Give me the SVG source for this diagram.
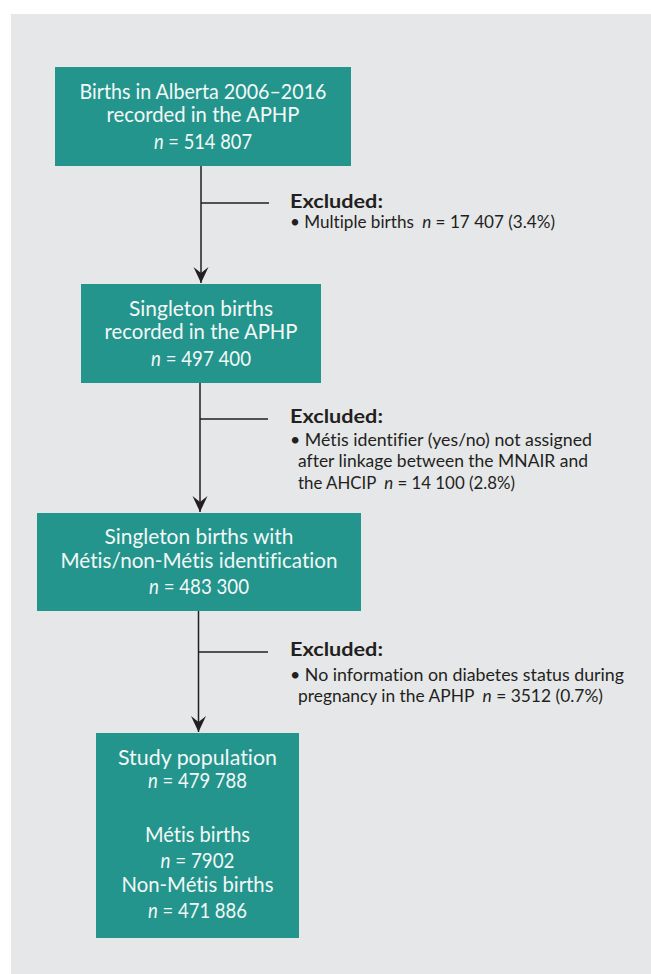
<svg xmlns="http://www.w3.org/2000/svg" width="651" height="974" viewBox="0 0 651 974">
<defs>
<style>
.bg{fill:#ffffff}
.panel{fill:#e6e7e9}
.box{fill:#23958d}
text{font-variant-ligatures:none}
.bt{font-family:Lato,"Source Sans Pro","Liberation Sans",sans-serif;font-size:21px;fill:#f3f8f6;text-anchor:middle;font-weight:400}
.eh{font-family:Lato,"Source Sans Pro","Liberation Sans",sans-serif;font-size:19.5px;font-weight:700;fill:#231f20}
.et{font-family:Lato,"Source Sans Pro","Liberation Sans",sans-serif;font-size:17.5px;fill:#231f20}
.i{font-style:italic}
.ln{stroke:#231f20;stroke-width:1.5;fill:none}
</style>
<marker id="ah" viewBox="0 0 16 16" refX="16" refY="8" markerWidth="16" markerHeight="16" markerUnits="userSpaceOnUse" orient="auto">
<path d="M16,8 L0,0.5 L6,8 L0,15.5 Z" fill="#231f20"/>
</marker>
</defs>
<rect class="bg" x="0" y="0" width="651" height="974"/>
<rect class="panel" x="11" y="14" width="640" height="960"/>

<g id="connectors">
<line class="ln" x1="201" y1="166" x2="201" y2="283" marker-end="url(#ah)"/>
<line class="ln" x1="201" y1="203" x2="269" y2="203"/>
<line class="ln" x1="200" y1="383" x2="200" y2="512" marker-end="url(#ah)"/>
<line class="ln" x1="200" y1="419" x2="268" y2="419"/>
<line class="ln" x1="198.5" y1="611" x2="198.5" y2="732" marker-end="url(#ah)"/>
<line class="ln" x1="198.5" y1="652" x2="268" y2="652"/>
</g>

<g id="box1">
<rect class="box" x="55" y="67" width="296" height="99"/>
<text class="bt" x="203" y="99" textLength="247" lengthAdjust="spacingAndGlyphs">Births in Alberta 2006–2016</text>
<text class="bt" x="203" y="122" textLength="193" lengthAdjust="spacingAndGlyphs">recorded in the APHP</text>
<text class="bt" x="203" y="149" textLength="98" lengthAdjust="spacingAndGlyphs"><tspan class="i">n</tspan> = 514 807</text>
</g>

<g id="excl1">
<text class="eh" x="290" y="208" textLength="93" lengthAdjust="spacingAndGlyphs">Excluded:</text>
<text class="et" x="290" y="228" textLength="265" lengthAdjust="spacingAndGlyphs">• Multiple births <tspan class="i" dx="4">n</tspan> = 17 407 (3.4%)</text>
</g>

<g id="box2">
<rect class="box" x="81" y="284" width="240" height="99"/>
<text class="bt" x="201" y="316" textLength="144" lengthAdjust="spacingAndGlyphs">Singleton births</text>
<text class="bt" x="201" y="339" textLength="193" lengthAdjust="spacingAndGlyphs">recorded in the APHP</text>
<text class="bt" x="201" y="366" textLength="100" lengthAdjust="spacingAndGlyphs"><tspan class="i">n</tspan> = 497 400</text>
</g>

<g id="excl2">
<text class="eh" x="290" y="423" textLength="93" lengthAdjust="spacingAndGlyphs">Excluded:</text>
<text class="et" x="290" y="446" textLength="302" lengthAdjust="spacingAndGlyphs">• Métis identifier (yes/no) not assigned</text>
<text class="et" x="298" y="467" textLength="290" lengthAdjust="spacingAndGlyphs">after linkage between the MNAIR and</text>
<text class="et" x="298" y="489" textLength="217" lengthAdjust="spacingAndGlyphs">the AHCIP <tspan class="i" dx="4">n</tspan> = 14 100 (2.8%)</text>
</g>

<g id="box3">
<rect class="box" x="37" y="513" width="324" height="98"/>
<text class="bt" x="199" y="544" textLength="189" lengthAdjust="spacingAndGlyphs">Singleton births with</text>
<text class="bt" x="199" y="568" textLength="277" lengthAdjust="spacingAndGlyphs">Métis/non-Métis identification</text>
<text class="bt" x="199" y="594" textLength="100" lengthAdjust="spacingAndGlyphs"><tspan class="i">n</tspan> = 483 300</text>
</g>

<g id="excl3">
<text class="eh" x="290" y="656" textLength="93" lengthAdjust="spacingAndGlyphs">Excluded:</text>
<text class="et" x="290" y="681" textLength="334" lengthAdjust="spacingAndGlyphs">• No information on diabetes status during</text>
<text class="et" x="298" y="702" textLength="305" lengthAdjust="spacingAndGlyphs">pregnancy in the APHP <tspan class="i" dx="4">n</tspan> = 3512 (0.7%)</text>
</g>

<g id="box4">
<rect class="box" x="96" y="733" width="203" height="205"/>
<text class="bt" x="197.5" y="765" textLength="159" lengthAdjust="spacingAndGlyphs">Study population</text>
<text class="bt" x="197.5" y="788" textLength="99" lengthAdjust="spacingAndGlyphs"><tspan class="i">n</tspan> = 479 788</text>
<text class="bt" x="197.5" y="842" textLength="105" lengthAdjust="spacingAndGlyphs">Métis births</text>
<text class="bt" x="197.5" y="868" textLength="74" lengthAdjust="spacingAndGlyphs"><tspan class="i">n</tspan> = 7902</text>
<text class="bt" x="197.5" y="892" textLength="152" lengthAdjust="spacingAndGlyphs">Non-Métis births</text>
<text class="bt" x="197.5" y="918" textLength="99" lengthAdjust="spacingAndGlyphs"><tspan class="i">n</tspan> = 471 886</text>
</g>
</svg>
